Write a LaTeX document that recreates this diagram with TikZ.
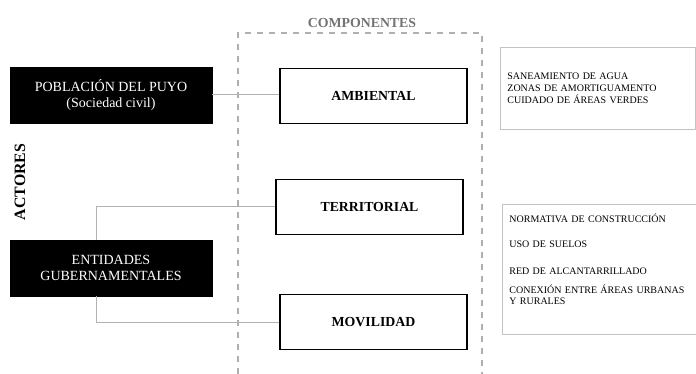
\documentclass[tikz,border=0pt]{standalone}
\usepackage{fontspec}
\setmainfont{Liberation Serif}
\usepackage{tikz}
\definecolor{mygrey}{RGB}{178,178,178}
\definecolor{mydash}{RGB}{175,175,175}
\definecolor{mytitle}{RGB}{115,115,115}
\definecolor{myedge}{RGB}{195,195,195}
\tikzset{
  actor/.style={rectangle, draw=black, fill=black, text=white,
    minimum width=202pt, minimum height=56pt, align=center,
    font=\fontsize{14}{16}\selectfont, inner sep=0pt},
  comp/.style={rectangle, draw=black, fill=white, line width=1.3pt,
    minimum width=187pt, minimum height=55pt, align=center,
    font=\fontsize{13.8}{15}\selectfont\bfseries, inner sep=0pt},
  detail/.style={rectangle, draw=myedge, fill=white, line width=0.8pt,
    text width=181pt, align=left, inner xsep=7pt, inner ysep=0pt,
    font=\fontsize{10}{12}\selectfont},
  link/.style={draw=mygrey, line width=1pt},
  frame/.style={draw=mydash, line width=1.2pt, dash pattern=on 6pt off 6pt}
}
\begin{document}
\begin{tikzpicture}[x=1pt, y=-1pt]
  \useasboundingbox (0,0) rectangle (696,374);

  % Componentes
  \draw[frame] (238,374) |- (482,33) -- (482,374);
  \node[font=\fontsize{13.8}{15}\selectfont\bfseries, text=mytitle] (tit) at (362,23) {COMPONENTES};

  \coordinate (trunk) at (96,0);

  % Actores
  \node[actor] (pob) at (111,95) {POBLACIÓN DEL PUYO\\(Sociedad civil)};
  \node[actor] (ent) at (111,268) {ENTIDADES\\GUBERNAMENTALES};
  \node[rotate=90, font=\fontsize{15.8}{18}\selectfont\bfseries] (act) at (20,182) {ACTORES};

  \node[comp] (amb) at (373.5,96) {AMBIENTAL};
  \node[comp] (ter) at (369.5,207) {TERRITORIAL};
  \node[comp] (mov) at (373.5,322) {MOVILIDAD};

  % Detalles
  \node[detail, minimum height=82pt, minimum width=195pt, anchor=north west] (det1) at (500,47)
    {SANEAMIENTO DE AGUA\\ZONAS DE AMORTIGUAMENTO\\CUIDADO DE ÁREAS VERDES};
  \node[detail, minimum height=130pt, minimum width=193pt, anchor=north west,
    font=\fontsize{10}{11}\selectfont] (det2) at (502,204)
    {NORMATIVA DE CONSTRUCCIÓN\\[14pt]USO DE SUELOS\\[16pt]RED DE ALCANTARRILLADO\\[8pt]CONEXIÓN ENTRE ÁREAS URBANAS\\Y RURALES\rule[-20pt]{0pt}{0pt}};

  % Lineas
  \draw[link] (pob.east) -- (pob.east -| amb.west);
  \draw[link] (ent.north -| trunk) |- (ter.west);
  \draw[link] (ent.south -| trunk) |- (mov.west);
\end{tikzpicture}
\end{document}
